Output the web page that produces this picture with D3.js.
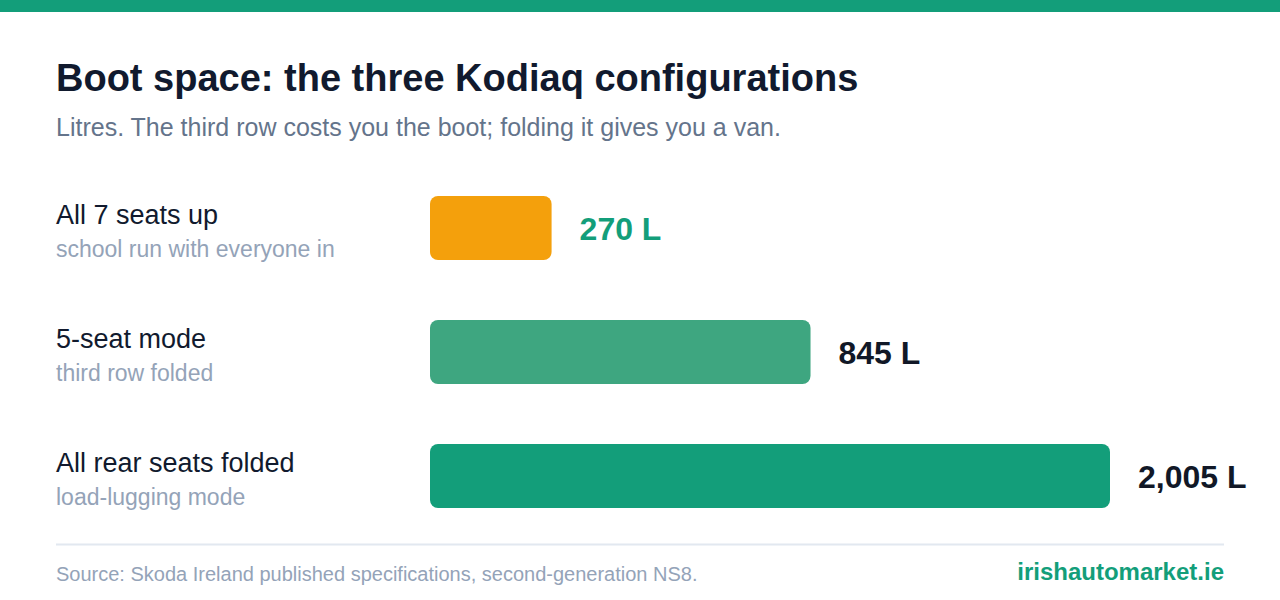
<!DOCTYPE html>
<html><head><meta charset="utf-8">
<script src="https://cdn.jsdelivr.net/npm/d3@7"></script>
<style>
html,body{margin:0;padding:0;background:#fff;}
svg{display:block;font-family:"Liberation Sans",Arial,Helvetica,sans-serif;}
</style></head>
<body>
<svg id="chart" width="1280" height="600"></svg>
<script>
const categories = ["All 7 seats up", "5-seat mode", "All rear seats folded"];
const subtitles = ["school run with everyone in", "third row folded", "load-lugging mode"];
const values = [270, 845, 2005];
const valueLabels = ["270 L", "845 L", "2,005 L"];
const barColors = ["#f4a00c", "#3ea680", "#139e7a"];
const labelColors = ["#139e7a", "#111827", "#111827"];

const svg = d3.select("#chart");
const W = 1280, H = 600;

svg.append("rect").attr("x",0).attr("y",0).attr("width",W).attr("height",12).attr("fill","#139e7a");

svg.append("text").attr("x",56).attr("y",91)
  .attr("font-size",38).attr("font-weight","bold").attr("fill","#111a2e")
  .text("Boot space: the three Kodiaq configurations");
svg.append("text").attr("x",56).attr("y",136)
  .attr("font-size",25).attr("fill","#64748b")
  .text("Litres. The third row costs you the boot; folding it gives you a van.");

const y = d3.scaleBand().domain(categories).range([166, 538]).paddingInner(0.484).paddingOuter(0.242);
const x = d3.scaleLinear().domain([0, 1510]).range([430, 1110]).clamp(true);

const rows = svg.append("g").selectAll("g").data(categories).join("g");

rows.append("rect")
  .attr("x", x(0))
  .attr("y", d => y(d))
  .attr("width", (d,i) => x(values[i]) - x(0))
  .attr("height", y.bandwidth())
  .attr("rx", 8)
  .attr("fill", (d,i) => barColors[i]);

rows.append("text")
  .attr("x", 56)
  .attr("y", d => y(d) + y.bandwidth()/2 - 4)
  .attr("font-size", 27).attr("fill", "#111a2e")
  .text(d => d);

rows.append("text")
  .attr("x", 56)
  .attr("y", d => y(d) + y.bandwidth()/2 + 29)
  .attr("font-size", 23).attr("fill", "#94a3b8")
  .text((d,i) => subtitles[i]);

rows.append("text")
  .attr("x", (d,i) => x(values[i]) + 28)
  .attr("y", d => y(d) + y.bandwidth()/2 + 12)
  .attr("font-size", 32).attr("font-weight","bold")
  .attr("fill", (d,i) => labelColors[i])
  .text((d,i) => valueLabels[i]);

svg.append("line").attr("x1",56).attr("x2",1224).attr("y1",544.5).attr("y2",544.5)
  .attr("stroke","#e2e8f0").attr("stroke-width",2);

svg.append("text").attr("x",56).attr("y",581)
  .attr("font-size",20).attr("fill","#94a3b8")
  .text("Source: Skoda Ireland published specifications, second-generation NS8.");
svg.append("text").attr("x",1224).attr("y",580).attr("text-anchor","end")
  .attr("font-size",24).attr("font-weight","bold").attr("fill","#139e7a")
  .text("irishautomarket.ie");
</script>
</body></html>
